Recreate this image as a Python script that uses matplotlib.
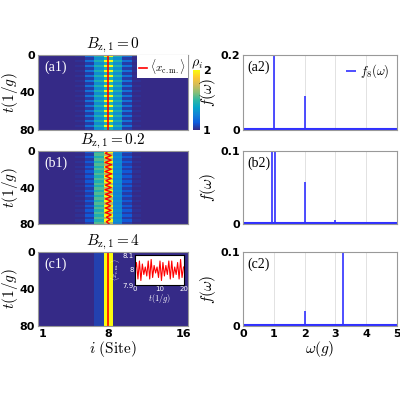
import numpy as np
import matplotlib
matplotlib.use("Agg")
import matplotlib.pyplot as plt
from matplotlib.colors import LinearSegmentedColormap

plt.rcParams['mathtext.fontset'] = 'cm'
plt.rcParams['font.family'] = 'DejaVu Sans'

# parula-like colours
parula = LinearSegmentedColormap.from_list("parula", [
    "#352a87", "#0f5cdd", "#1481d6", "#06a4ca", "#2eb7a4",
    "#87bf77", "#d1bb59", "#fec832", "#f9fb0e"])

# site density profiles (sites 1..16) for bright and dim stripes
prof_a_bright = [1, 1, 1, 1, 1.02, 1.2, 1.45, 2.0, 1.45, 1.2, 1.02, 1, 1, 1, 1, 1]
prof_a_dim    = [1, 1, 1, 1, 1.0, 1.05, 1.3, 1.45, 1.3, 1.05, 1.0, 1, 1, 1, 1, 1]
prof_b_bright = [1, 1, 1, 1, 1.02, 1.12, 1.45, 2.0, 1.3, 1.12, 1.02, 1, 1, 1, 1, 1]
prof_b_dim    = [1, 1, 1, 1, 1.0, 1.05, 1.55, 1.7, 1.25, 1.05, 1.0, 1, 1, 1, 1, 1]
prof_c        = [1, 1, 1, 1, 1, 1.0, 1.06, 2.0, 1.0, 1.0, 1, 1, 1, 1, 1, 1]
stripes = [0, 1] * 15  # 30 time rows over 0..80

# centre of mass trajectories
t_cm = [0, 2.5, 5, 7.5, 10, 12.5, 15, 17.5, 20, 22.5, 25, 27.5, 30, 32.5, 35, 37.5, 40,
        42.5, 45, 47.5, 50, 52.5, 55, 57.5, 60, 62.5, 65, 67.5, 70, 72.5, 75, 77.5, 80]
xcm_b = [8.0, 7.7, 8.3, 7.7, 8.3, 7.65, 8.35, 7.7, 8.3, 7.65, 8.35, 7.7, 8.3, 7.75, 8.25, 7.7,
         8.3, 7.65, 8.35, 7.7, 8.3, 7.7, 8.3, 7.75, 8.25, 7.7, 8.3, 7.7, 8.3, 7.8, 8.2, 7.8, 8.1]

# inset data
t_in = [0, 0.6, 1.2, 1.8, 2.4, 3.0, 3.6, 4.2, 4.8, 5.4, 6.0, 6.6, 7.2, 7.8, 8.4, 9.0, 9.6,
        10.2, 10.8, 11.4, 12.0, 12.6, 13.2, 13.8, 14.4, 15.0, 15.6, 16.2, 16.8, 17.4, 18.0,
        18.6, 19.2, 19.8]
x_in = [8.0, 8.05, 7.94, 8.06, 7.93, 8.04, 7.97, 8.02, 7.96, 8.06, 7.94, 8.07, 7.95, 8.03,
        7.98, 8.02, 7.95, 8.06, 7.93, 8.05, 7.96, 8.03, 7.97, 8.06, 7.94, 8.06, 7.95, 8.02,
        7.97, 8.05, 7.94, 8.07, 7.95, 8.02]

# spectra: peak positions and heights
pk_a_w = [1.0, 2.0, 3.0]
pk_a_h = [0.25, 0.09, 0.006]
pk_b_w = [0.93, 1.05, 2.0, 3.0]
pk_b_h = [0.12, 0.12, 0.058, 0.005]
pk_c_w = [1.2, 2.0, 3.25]
pk_c_h = [0.003, 0.02, 0.1]

titles = [r"$B_{\mathrm{z},1}=0$", r"$B_{\mathrm{z},1}=0.2$", r"$B_{\mathrm{z},1}=4$"]

fig = plt.figure(figsize=(4, 4), dpi=100)
W, H = 400, 400
def ax_px(x0, y0, x1, y1):
    return fig.add_axes([x0 / W, 1 - y1 / H, (x1 - x0) / W, (y1 - y0) / H])

rows_y = [(55, 130), (151, 224), (252, 326)]
tickfont = dict(fontsize=8, fontweight='bold')

def stripe_map(bright, dim):
    return np.array([bright if s == 0 else dim for s in stripes])

maps = [stripe_map(prof_a_bright, prof_a_dim), stripe_map(prof_b_bright, prof_b_dim),
        np.array([prof_c for _ in stripes])]
labels_l = ["(a1)", "(b1)", "(c1)"]
labels_r = ["(a2)", "(b2)", "(c2)"]
pks = [(pk_a_w, pk_a_h, 0.2), (pk_b_w, pk_b_h, 0.1), (pk_c_w, pk_c_h, 0.1)]

for i, (y0, y1) in enumerate(rows_y):
    ax = ax_px(38, y0, 188, y1)
    im = ax.imshow(maps[i], cmap=parula, vmin=1, vmax=2, aspect='auto',
                   extent=[0.5, 16.5, 80, 0], interpolation='nearest')
    if i == 0:
        ax.plot([8, 8], [0, 80], color='red', lw=1.2)
        ax.plot([], [], color='red', lw=1.2, label=r"$\langle x_{\mathrm{c.m.}}\rangle$")
        leg = ax.legend(loc='upper right', fontsize=8, frameon=True, handlelength=0.7,
                        borderaxespad=0.0, handletextpad=0.3, borderpad=0.2, fancybox=False)
        leg.get_frame().set_facecolor('white')
        leg.get_frame().set_edgecolor('none')
        leg.get_frame().set_alpha(1)
    elif i == 1:
        ax.plot(xcm_b, t_cm, color='red', lw=1)
    else:
        ax.plot([8, 8], [0, 80], color='red', lw=1.2)
    ax.set_xlim(0.5, 16.5)
    ax.set_ylim(80, 0)
    ax.set_yticks([0, 40, 80])
    ax.set_yticklabels(["0", "40", "80"], **tickfont)
    ax.set_title(titles[i], fontsize=11, pad=2)
    ax.set_ylabel(r"$t(1/g)$", fontsize=11, labelpad=0)
    ax.tick_params(length=0, pad=2)
    ax.text(0.04, 0.93, labels_l[i], transform=ax.transAxes, color='white', va='top',
            fontsize=10, family='Liberation Serif')
    if i == 2:
        ax.set_xticks([1, 8, 16])
        ax.set_xticklabels(["1", "8", "16"], **tickfont)
        ax.set_xlabel(r"$i\ (\mathrm{Site})$", fontsize=11, labelpad=0)
    else:
        ax.set_xticks([])
    for s in ax.spines.values():
        s.set_color('#999999')

    if i == 0:
        cax = ax_px(193, 70, 200, 130)
        cb = fig.colorbar(im, cax=cax, ticks=[1, 2])
        cb.ax.set_yticklabels(["1", "2"], **tickfont)
        cb.ax.tick_params(length=0, pad=2)
        cb.outline.set_visible(False)
        fig.text(191 / W, 1 - 66 / H, r"$\rho_i$", fontsize=10)

    if i == 2:
        ins = ax_px(135, 255, 184, 285)
        ins.plot(t_in, x_in, color='red', lw=0.8)
        ins.set_xlim(0, 20)
        ins.set_ylim(7.9, 8.1)
        ins.set_xticks([0, 10, 20])
        ins.set_yticks([7.9, 8, 8.1])
        ins.set_yticklabels(["7.9", "8", "8.1"])
        ins.tick_params(labelsize=5, colors='white', length=0, pad=1)
        ins.set_xlabel(r"$t(1/g)$", fontsize=6, color='white', labelpad=0)
        ins.set_ylabel(r"$\langle x_{\mathrm{c.m.}}\rangle$", fontsize=5, color='white', labelpad=0)

    # spectrum
    ax2 = ax_px(243, y0, 397, y1)
    w, h, ymax = pks[i]
    ax2.vlines(w, 0, h, color='#3030ff', lw=1.2, label=r"$f_8(\omega)$" if i == 0 else None)
    ax2.axhline(0.0015 * ymax / 0.1, color='#3030ff', lw=1.5)
    ax2.set_xlim(0, 5)
    ax2.set_ylim(0, ymax)
    ax2.set_yticks([0, ymax])
    ax2.set_yticklabels(["0", f"{ymax:g}"], **tickfont)
    ax2.set_xticks([1, 2, 3, 4])
    ax2.grid(axis='x', color='#dddddd', lw=0.6)
    ax2.tick_params(length=0, pad=2)
    ax2.set_ylabel(r"$f(\omega)$", fontsize=11, labelpad=2)
    ax2.text(0.03, 0.93, labels_r[i], transform=ax2.transAxes, va='top', fontsize=10,
             family='Liberation Serif')
    for s in ax2.spines.values():
        s.set_color('#999999')
    if i == 0:
        ax2.legend(loc='upper right', fontsize=9, frameon=False, handlelength=0.8,
                   handletextpad=0.3, borderaxespad=0.2)
    if i == 2:
        ax2.set_xticks([0, 1, 2, 3, 4, 5])
        ax2.set_xticklabels(["0", "1", "2", "3", "4", "5"], **tickfont)
        ax2.set_xlabel(r"$\omega(g)$", fontsize=11, labelpad=0)
    else:
        ax2.set_xticklabels([])

fig.savefig("out.png", dpi=100)
